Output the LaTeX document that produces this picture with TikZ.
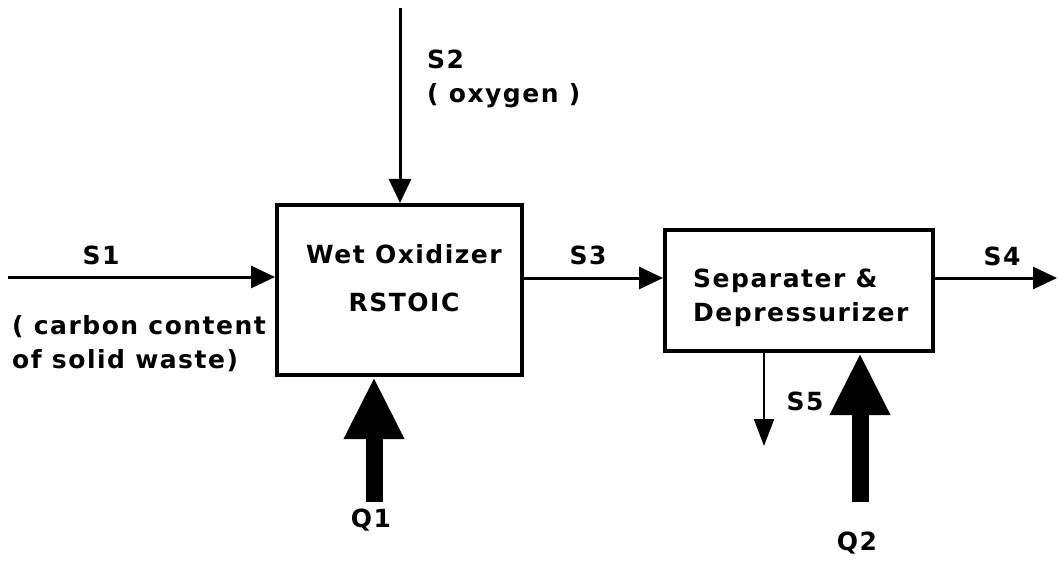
\documentclass[tikz,border=0pt]{standalone}
\usepackage{fontspec}
\setmainfont{DejaVu Sans}
\newfontfamily\lblfont[LetterSpace=6]{DejaVu Sans}
\usetikzlibrary{arrows.meta}
\begin{document}
\begin{tikzpicture}[x=1pt,y=-1pt,
  lbl/.style={font=\lblfont\bfseries\fontsize{25}{34}\selectfont, inner sep=0pt},
  procbox/.style={draw, line width=4pt, inner sep=0pt},
  flow/.style={line width=3pt, -{Triangle[length=24pt,width=22pt]}},
  smallflow/.style={line width=2pt, -{Triangle[length=27pt,width=20pt]}},
  heat/.style={line width=17pt, -{Triangle[length=62pt,width=56pt]}}]
\useasboundingbox (0,0) rectangle (1059,561);
\node[procbox, minimum width=245pt, minimum height=170pt] (ox) at (399.5,290) {};
\node[procbox, minimum width=268pt, minimum height=121pt] (sep) at (799,290.5) {};
\node[lbl] (oxname) at (404,254) {Wet Oxidizer};
\node[lbl] (oxtype) at (404,302) {RSTOIC};
\node[lbl, align=left, anchor=west] (septext) at (693,298) {Separater \&\\Depressurizer};
\coordinate (s1start) at (8,277);
\coordinate (s2start) at (400,8);
\coordinate (s4end) at (1057,278);
\coordinate (s5end) at (764,446);
\coordinate (q1start) at (374,502);
\coordinate (q2start) at (860,502);
\draw[flow] (s1start) -- (ox.west |- s1start);
\draw[flow] (s2start) -- (s2start |- ox.north);
\draw[flow] (ox.east |- s4end) -- (sep.west |- s4end);
\draw[flow] (sep.east |- s4end) -- (s4end);
\draw[smallflow] (s5end |- sep.south) -- (s5end);
\draw[heat] (q1start) -- (q1start |- ox.south);
\draw[heat] (q2start) -- (q2start |- sep.south);
\node[lbl] (s1) at (101,255) {S1};
\node[lbl, align=left, anchor=west] (s1desc) at (12,344) {( carbon content\\of solid waste)};
\node[lbl, align=left, anchor=west] (s2) at (427,78.5) {S2\\( oxygen )};
\node[lbl] (s3) at (588,255) {S3};
\node[lbl] (s4) at (1002,256) {S4};
\node[lbl] (s5) at (805,401) {S5};
\node[lbl] (q1) at (371,520) {Q1};
\node[lbl] (q2) at (857,543) {Q2};
\end{tikzpicture}
\end{document}
